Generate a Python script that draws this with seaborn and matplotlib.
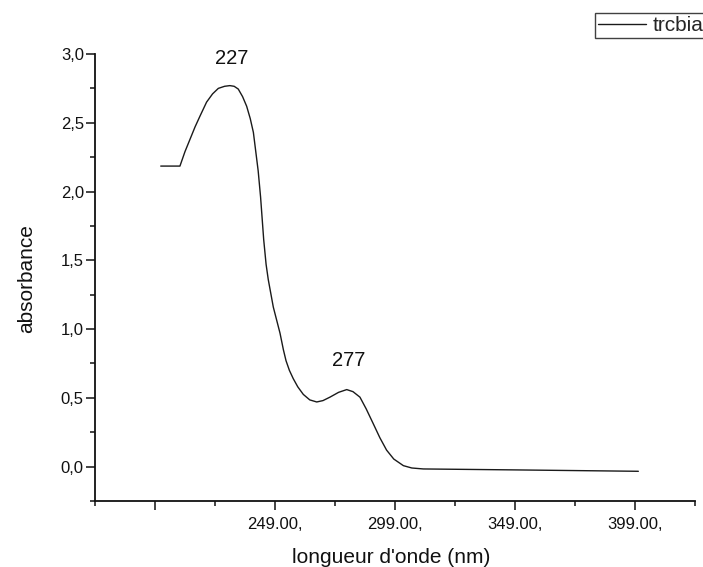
import matplotlib
matplotlib.use("Agg")
import matplotlib.pyplot as plt
import matplotlib.ticker as mticker
import pandas as pd
import seaborn as sns

# spectrum
wavelength = [201.4, 209.4, 211.5, 213.6, 215.7, 217.8, 220.5, 223.0, 225.4, 228.0,
              230.2, 232.0, 233.7, 235.5, 237.2, 238.7, 240.0, 241.0, 242.0, 243.0,
              244.3, 245.3, 246.2, 248.3, 251.1, 252.5, 253.6, 255.0, 256.6, 258.5,
              260.8, 263.5, 266.4, 269.0, 271.9, 275.5, 278.9, 281.5, 284.4, 287.0,
              290.0, 292.7, 295.5, 298.5, 302.5, 306.0, 310.8, 349.7, 400.4]
absorbance = [2.185, 2.185, 2.29, 2.38, 2.47, 2.55, 2.65, 2.71, 2.75, 2.765,
              2.77, 2.765, 2.745, 2.69, 2.62, 2.53, 2.43, 2.29, 2.15, 1.96,
              1.65, 1.47, 1.36, 1.16, 0.97, 0.85, 0.77, 0.70, 0.64, 0.58,
              0.525, 0.485, 0.47, 0.48, 0.505, 0.54, 0.56, 0.545, 0.505, 0.42,
              0.31, 0.21, 0.12, 0.055, 0.007, -0.01, -0.017, -0.024, -0.034]
series_name = "trcbia"

peak_labels = ["227", "277"]
peak_x = [230.9, 279.8]
peak_y = [2.967, 0.77]

x_major = [199, 249, 299, 349, 399]
x_major_labels = ["", "249.00,", "299.00,", "349.00,", "399.00,"]
x_minor = [174, 224, 274, 324, 374, 424]
y_major = [0.0, 0.5, 1.0, 1.5, 2.0, 2.5, 3.0]
y_major_labels = ["0,0", "0,5", "1,0", "1,5", "2,0", "2,5", "3,0"]
y_minor = [-0.25, 0.25, 0.75, 1.25, 1.75, 2.25, 2.75]

df = pd.DataFrame({"wavelength": wavelength, "absorbance": absorbance, "sample": series_name})

sns.set_theme(style="ticks")
plt.rcParams["font.family"] = ["Liberation Sans", "DejaVu Sans"]

fig = plt.figure(figsize=(7.03, 5.67), dpi=100)
ax = fig.add_axes([0.1351, 0.1164, 0.8535, 0.7884])

sns.lineplot(data=df, x="wavelength", y="absorbance", hue="sample", palette=["#1a1a1a"],
             linewidth=1.0, sort=False, ax=ax)

for lab, px, py in zip(peak_labels, peak_x, peak_y):
    ax.text(px, py, lab, ha="center", va="center", fontsize=14.5, color="#111111")

ax.set_xlim(174, 424)
ax.set_ylim(-0.25, 3.0)
ax.xaxis.set_major_locator(mticker.FixedLocator(x_major))
ax.xaxis.set_major_formatter(mticker.FixedFormatter(x_major_labels))
ax.xaxis.set_minor_locator(mticker.FixedLocator(x_minor))
ax.yaxis.set_major_locator(mticker.FixedLocator(y_major))
ax.yaxis.set_major_formatter(mticker.FixedFormatter(y_major_labels))
ax.yaxis.set_minor_locator(mticker.FixedLocator(y_minor))

ax.tick_params(axis="both", which="major", length=6.5, width=1.1, colors="#111111",
               labelsize=12, direction="out")
ax.tick_params(axis="both", which="minor", length=3.5, width=1.1, colors="#111111", direction="out")
ax.tick_params(axis="x", which="major", pad=5)
ax.tick_params(axis="y", which="major", pad=1.5)

sns.despine(ax=ax)
for s in ["left", "bottom"]:
    ax.spines[s].set_linewidth(1.3)
    ax.spines[s].set_color("#111111")

ax.set_xlabel("longueur d'onde (nm)", fontsize=15, color="#111111")
ax.set_ylabel("absorbance", fontsize=15, color="#111111")
ax.xaxis.set_label_coords(0.493, -0.105)
ax.yaxis.set_label_coords(-0.098, 0.497)

leg = ax.legend(loc="upper left", bbox_to_anchor=(595 / 703, 1 - 13 / 567),
                bbox_transform=fig.transFigure, frameon=True, fancybox=False,
                fontsize=15, handlelength=2.3, handletextpad=0.3, borderpad=0.15,
                borderaxespad=0)
leg.get_frame().set_edgecolor("#111111")
leg.get_frame().set_linewidth(1.0)
leg.set_title(None)

fig.savefig("out.png", dpi=100)
